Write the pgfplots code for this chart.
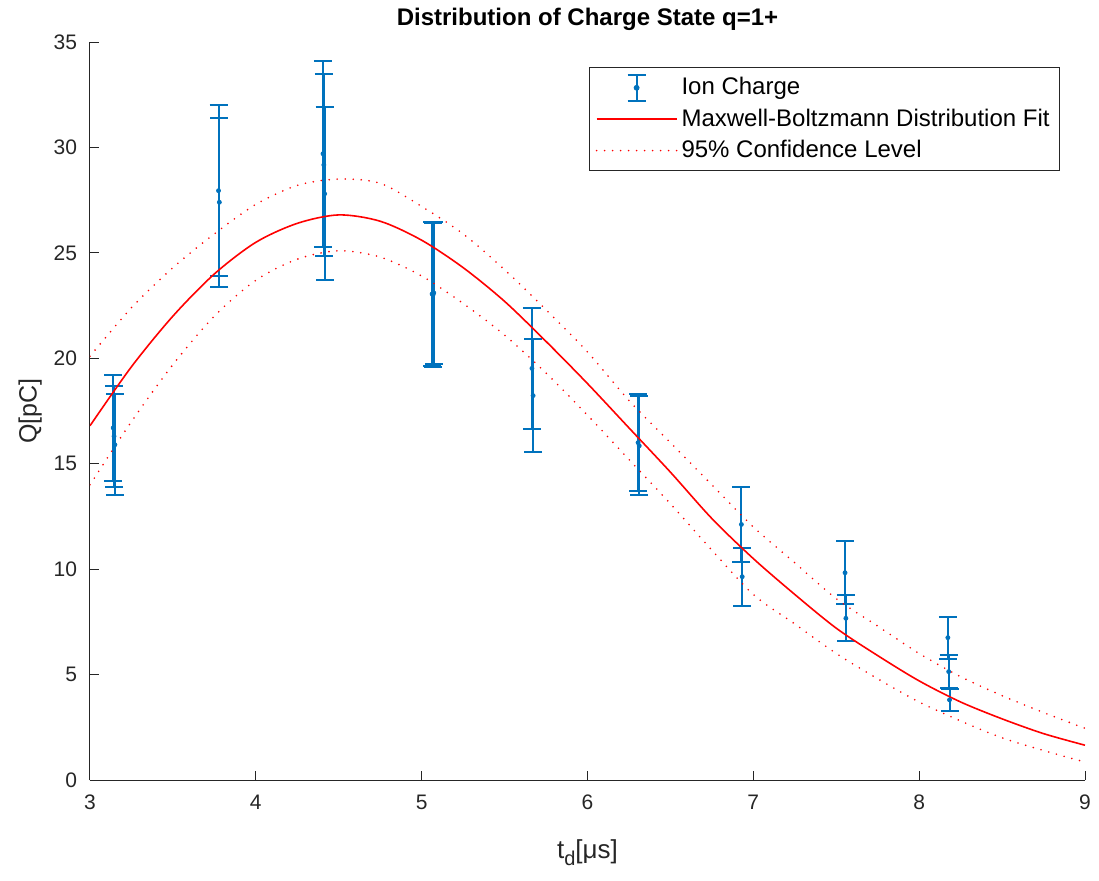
\documentclass[border=0pt]{standalone}
\usepackage{fontspec}
\setmainfont{Liberation Sans}
\usepackage{pgfplots}
\pgfplotsset{compat=1.18}
\definecolor{mlblue}{RGB}{0,114,189}
\definecolor{axgray}{RGB}{38,38,38}
\definecolor{mlred}{RGB}{255,0,0}
\pgfplotsset{
  longleg/.style={legend image code/.code={\draw[##1] (0pt,0pt) -- (40pt,0pt);}},
  errleg/.style={legend image code/.code={
    \draw[mlblue, line width=1pt] (20pt,-6.5pt) -- (20pt,6.5pt)
      (15.5pt,-6.5pt) -- (24.5pt,-6.5pt) (15.5pt,6.5pt) -- (24.5pt,6.5pt);
    \fill[mlblue] (20pt,0pt) circle (1.2pt);}},
}

\pgfplotstableread{
x      y      e
3.140  16.70  2.50
3.145  16.30  2.40
3.150  15.90  2.40
3.775  27.95  4.05
3.780  27.40  4.00
4.405  29.70  4.40
4.410  29.17  4.30
4.415  27.80  4.10
5.063  23.05  3.40
5.068  23.00  3.40
5.073  23.10  3.35
5.665  19.52  2.85
5.672  18.23  2.67
6.305  16.00  2.30
6.312  15.85  2.35
6.928  12.12  1.79
6.933   9.64  1.38
7.553   9.83  1.50
7.558   7.67  1.10
8.173   6.75  1.00
8.178   5.14  0.80
8.183   3.80  0.53
}\iondata

\pgfplotstableread{
x     fit    up     lo
3.00  16.80  20.10  14.00
3.25  19.60  22.40  17.00
3.50  22.00  24.30  19.70
3.75  24.00  25.90  22.00
4.00  25.50  27.30  23.70
4.25  26.40  28.20  24.70
4.50  26.80  28.50  25.10
4.75  26.50  28.30  24.80
5.00  25.60  27.20  23.90
5.25  24.30  25.90  22.60
5.50  22.70  24.20  21.10
5.75  20.80  22.30  19.30
6.00  18.80  20.30  17.30
6.25  16.70  18.00  15.20
6.50  14.60  16.00  13.10
6.75  12.40  14.00  10.90
7.00  10.50  12.00   8.80
7.25   8.80  10.30   7.40
7.50   7.20   8.60   6.00
7.75   5.90   7.30   4.80
8.00   4.70   6.00   3.70
8.25   3.70   4.90   2.80
8.50   2.90   4.00   2.00
8.75   2.20   3.20   1.40
9.00   1.65   2.45   0.85
}\fitdata

\begin{document}
\begin{tikzpicture}
\begin{axis}[
  scale only axis,
  width=497.5pt, height=369pt,
  xmin=3, xmax=9, ymin=0, ymax=35,
  xtick={3,4,...,9}, ytick={0,5,...,35},
  axis x line*=bottom, axis y line*=left,
  axis line style={axgray, line width=0.5pt},
  tick style={axgray, line width=0.5pt},
  tick align=inside,
  major tick length=4.5pt,
  ticklabel style={font=\fontsize{10.5}{12}\selectfont, text=axgray},
  xticklabel style={yshift=-4pt},
  yticklabel style={xshift=-3pt},
  /pgf/number format/assume math mode=true,
  title={\bfseries Distribution of Charge State q=1+},
  title style={font=\fontsize{12}{14}\selectfont, yshift=-4pt},
  xlabel={t\raisebox{-0.5ex}{\fontsize{10}{12}\selectfont d}[μs]},
  ylabel={Q[pC]},
  xlabel style={font=\fontsize{13}{15}\selectfont, text=axgray, yshift=-8pt},
  ylabel style={font=\fontsize{12.5}{15}\selectfont, text=axgray, yshift=-1pt},
  legend cell align=left,
  legend style={at={(0.975,0.966)}, anchor=north east, draw=axgray,
    line width=0.5pt, font=\fontsize{12}{14}\selectfont,
    row sep=1.5pt, inner xsep=3pt, inner ysep=3pt},
]
\addplot[only marks, mark=*, mark size=1pt, color=mlblue, errleg,
  error bars/.cd, y dir=both, y explicit,
  error bar style={line width=1pt, mlblue},
  error mark options={rotate=90, mark size=4.5pt, line width=1pt, mlblue}]
  table[x=x, y=y, y error=e] {\iondata};
\addlegendentry{Ion Charge}
\addplot[mlred, line width=0.8pt, smooth, longleg]
  table[x=x, y=fit] {\fitdata};
\addlegendentry{Maxwell-Boltzmann Distribution Fit}
\addplot[mlred, line width=0.9pt, smooth, line cap=round,
  dash pattern=on 0pt off 4pt, longleg]
  table[x=x, y=up] {\fitdata};
\addlegendentry{95\% Confidence Level}
\addplot[mlred, line width=0.9pt, smooth, line cap=round,
  dash pattern=on 0pt off 4pt, forget plot]
  table[x=x, y=lo] {\fitdata};
\end{axis}
\pgfresetboundingbox
\path (-45pt,-50pt) rectangle (504.5pt,390pt);
\end{tikzpicture}
\end{document}
